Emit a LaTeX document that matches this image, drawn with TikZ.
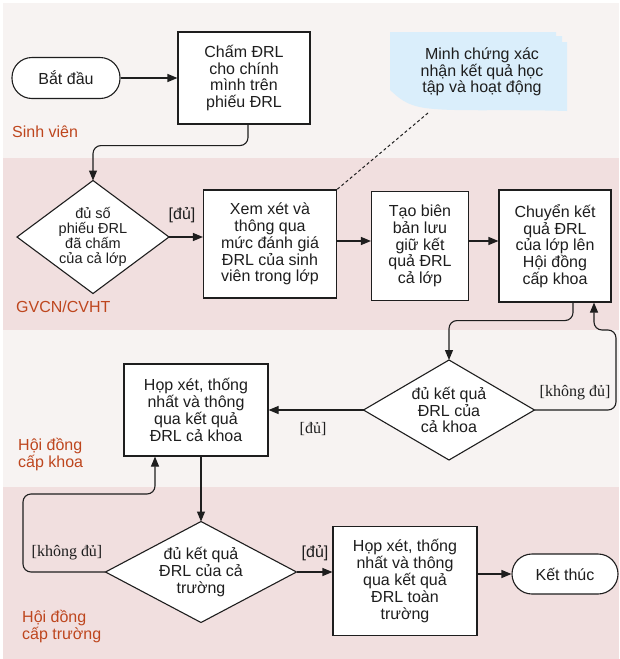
\documentclass[tikz,border=0pt]{standalone}
\usepackage{fontspec}
\setmainfont{Liberation Sans}
\newfontfamily\serifft{Liberation Serif}
\usetikzlibrary{arrows.meta,shapes.geometric}
\definecolor{laneA}{RGB}{247,243,242}
\definecolor{laneB}{RGB}{241,223,223}
\definecolor{lanelbl}{RGB}{190,70,30}
\definecolor{notefill}{RGB}{218,238,251}
\definecolor{ink}{RGB}{30,30,30}
\begin{document}
\begin{tikzpicture}[x=1pt,y=-1pt,
  box/.style={draw=ink, line width=1.1pt, fill=white, align=center, font=\fontsize{16}{16.8}\selectfont, text=ink, inner sep=0pt},
  term/.style={box, rounded corners=20pt},
  dia/.style={diamond, draw=ink, line width=1.1pt, fill=white, inner sep=0pt, outer sep=0pt},
  dtxt/.style={align=center, text=ink, font=\fontsize{16}{16.6}\selectfont, inner sep=0pt},
  arr/.style={draw=ink, line width=1.1pt, -{Triangle[length=10pt,width=8pt]}},
  lanelabel/.style={text=lanelbl, font=\fontsize{16}{17}\selectfont, align=left, anchor=west, inner sep=0pt},
  guard/.style={text=ink, font=\serifft\fontsize{16}{17}\selectfont, inner sep=0pt},
  guardsans/.style={text=ink, font=\fontsize{16}{17}\selectfont, inner sep=0pt},
]
% canvas and lanes
\fill[white] (0,0) rectangle (619,659);
\fill[laneA] (3,3) rectangle (619,158);
\fill[laneB] (3,158) rectangle (619,330);
\fill[laneA] (3,330) rectangle (619,487);
\fill[laneB] (3,487) rectangle (619,659);

% lane labels
\node[lanelabel] (l1) at (12,132) {Sinh viên};
\node[lanelabel] (l2) at (16,307) {GVCN/CVHT};
\node[lanelabel] (l3) at (18,455) {Hội đồng\\cấp khoa};
\node[lanelabel] (l4) at (22,627) {Hội đồng\\cấp trường};

% note
\fill[notefill] (390,32) -- (556,32) -- (556,36) -- (562,36) -- (562,42) -- (567,42) -- (567,111)
  .. controls (500,109) and (455,112) .. (425,108) .. controls (405,105) and (398,97) .. (390,90) -- cycle;
\node[dtxt] (note) at (482,72) {Minh chứng xác\\nhận kết quả học\\tập và hoạt động};
\coordinate (notetip) at (428,113);

% nodes
\node[term, minimum width=108pt, minimum height=41pt] (start) at (66,78) {Bắt đầu};
\node[box, minimum width=132pt, minimum height=92pt] (c1) at (244,78) {Chấm ĐRL\\cho chính\\mình trên\\phiếu ĐRL};

\node[dia, minimum width=152pt, minimum height=113pt] (d1) at (93,237) {};
\node[dtxt, font=\fontsize{14.5}{15}\selectfont] (d1t) at (d1.center) {đủ số\\phiếu ĐRL\\đã chấm\\của cả lớp};

\node[box, minimum width=133pt, minimum height=108pt] (x1) at (270,244) {Xem xét và\\thông qua\\mức đánh giá\\ĐRL của sinh\\viên trong lớp};
\node[box, minimum width=97pt, minimum height=109pt] (t2) at (420,246) {Tạo biên\\bản lưu\\giữ kết\\quả ĐRL\\cả lớp};
\node[box, minimum width=112pt, minimum height=112pt] (c2) at (555,246) {Chuyển kết\\quả ĐRL\\của lớp lên\\Hội đồng\\cấp khoa};

\node[dia, minimum width=171pt, minimum height=100pt] (d2) at (449,410) {};
\node[dtxt] (d2t) at (d2.center) {đủ kết quả\\ĐRL của\\cả khoa};

\node[box, minimum width=144pt, minimum height=92pt] (k1) at (196,410) {Họp xét, thống\\nhất và thông\\qua kết quả\\ĐRL cả khoa};

\node[dia, minimum width=191pt, minimum height=101pt] (d3) at (201,572) {};
\node[dtxt] (d3t) at (d3.center) {đủ kết quả\\ĐRL của cả\\trường};

\node[box, minimum width=144pt, minimum height=109pt] (t1) at (405,581) {Họp xét, thống\\nhất và thông\\qua kết quả\\ĐRL toàn\\trường};
\node[term, minimum width=106pt, minimum height=40pt] (e1) at (565,574) {Kết thúc};

% connectors
\draw[arr] (start.east) -- (start.east -| c1.west);
\draw[arr, rounded corners=8pt] ([xshift=4pt]c1.south) -- ++(0,21) -| (d1.north);
\draw[arr] (d1.east) -- (d1.east -| x1.west);
\draw[arr] (x1.east |- 0,241) -- (t2.west |- 0,241);
\draw[arr] (t2.east |- 0,241) -- (c2.west |- 0,241);
\draw[ink, line width=1pt, dash pattern=on 3pt off 2.5pt] (notetip) -- (x1.north east);
\draw[arr, rounded corners=8pt] ([xshift=18pt]c2.south) -- ++(0,18) -| (d2.north);
\draw[arr, rounded corners=8pt] (d2.east) -- (616,410) -- (616,330) -- ([xshift=39pt]c2.south |- 0,330) -- ([xshift=39pt]c2.south);
\draw[arr] (d2.west) -- (d2.west -| k1.east);
\draw[arr] (k1.south -| d3.north) -- (d3.north);
\draw[arr, rounded corners=8pt] (d3.west) -- (23,572) -- (23,494) -- ([xshift=-41pt]k1.south |- 0,494) -- ([xshift=-41pt]k1.south);
\draw[arr] (d3.east) -- (d3.east -| t1.west);
\draw[arr] (e1.west -| t1.east) -- (e1.west);

% guards
\node[guardsans] (g1) at (182,215) {[đủ]};
\node[guard] (g2) at (575,393) {[không đủ]};
\node[guard] (g3) at (313,429) {[đủ]};
\node[guard] (g4) at (67,553) {[không đủ]};
\node[guardsans] (g5) at (315,553) {[đủ]};
\end{tikzpicture}
\end{document}
